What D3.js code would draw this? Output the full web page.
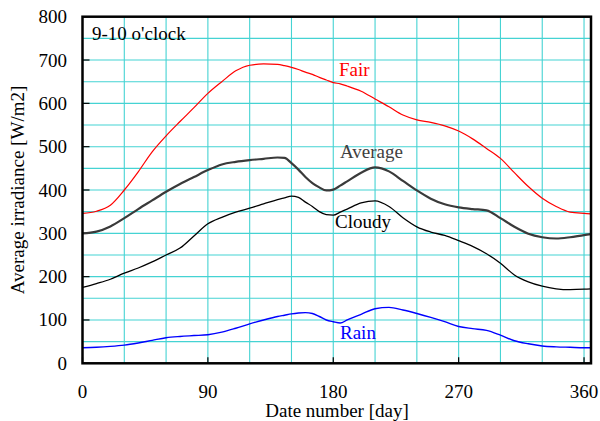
<!DOCTYPE html>
<html><head><meta charset="utf-8">
<script src="https://cdn.jsdelivr.net/npm/d3@7"></script>
<style>body{margin:0;background:#fff}svg{display:block}</style>
</head><body><svg id="c" width="600" height="421" font-family="'Liberation Serif', 'DejaVu Serif', serif"></svg>
<script>
const days   = [0,10,20,30,40,50,60,70,80,90,100,110,120,130,140,145,150,155,160,165,170,175,180,185,190,200,210,220,230,240,250,260,270,280,290,300,310,320,330,340,350,360,365];
const fair   = [346,351,365,400,442,488,525,558,590,623,650,675,688,691,690,687,683,678,672,667,660,654,648,645,640,628,610,592,573,562,556,548,536,518,496,473,440,408,381,362,349,346,345];
const average= [300,304,316,335,356,376,396,414,430,446,459,465,469,472,475,474,462,447,430,416,406,399,401,410,420,440,452,443,421,399,380,367,360,356,353,335,315,299,291,288,291,296,298];
const cloudy = [175,184,194,208,220,234,250,266,294,322,337,349,358,368,378,382,386,383,372,362,350,343,342,349,356,370,375,362,336,315,303,295,283,270,253,231,204,188,178,172,170,171,172];
const rain   = [36,37,39,42,47,53,59,62,64,66,72,81,91,100,108,111,114,116,117,115,108,100,96,93,100,113,126,129,123,115,106,96,85,80,76,65,52,45,40,38,37,36,36];
const xTicks = [0,90,180,270,360];
const yTicks = [0,100,200,300,400,500,600,700,800];
const seriesNames = ["Fair","Average","Cloudy","Rain"];
const seriesColors = ["#ff0000","#3a3a3a","#000000","#0000ff"];
const seriesWidths = [1.2,2.2,1.3,1.4];
const labelPos = [[339,76],[340,158],[335,228],[340,339]];

const L=82.5,R=591,T=16.7,B=363.3;
const x=d3.scaleLinear().domain([0,365]).range([L,R]);
const y=d3.scaleLinear().domain([0,800]).range([B,T]);
const svg=d3.select("#c");

const g=svg.append("g");
g.selectAll(".vg").data(d3.range(30,365,30)).enter().append("line")
 .attr("x1",d=>x(d)).attr("x2",d=>x(d)).attr("y1",T).attr("y2",B)
 .attr("stroke","#45d3d3").attr("stroke-width",1.1);
g.selectAll(".hg").data(d3.range(50,800,50)).enter().append("line")
 .attr("y1",d=>y(d)).attr("y2",d=>y(d)).attr("x1",L).attr("x2",R)
 .attr("stroke","#45d3d3").attr("stroke-width",1.1);

g.selectAll(".yt").data(yTicks).enter().append("line")
 .attr("x1",L).attr("x2",L+7).attr("y1",d=>y(d)).attr("y2",d=>y(d)).attr("stroke","#000").attr("stroke-width",1.2);
g.selectAll(".xt").data(xTicks).enter().append("line")
 .attr("x1",d=>x(d)).attr("x2",d=>x(d)).attr("y1",B).attr("y2",B-6).attr("stroke","#000").attr("stroke-width",1.2);

const data=[fair,average,cloudy,rain];
const line=d3.line().x((d,i)=>x(days[i])).y(d=>y(d)).curve(d3.curveMonotoneX);
data.forEach((s,k)=>{
  g.append("path").attr("d",line(s)).attr("fill","none")
   .attr("stroke",seriesColors[k]).attr("stroke-width",seriesWidths[k]).attr("stroke-linejoin","round");
  svg.append("text").attr("x",labelPos[k][0]).attr("y",labelPos[k][1]).text(seriesNames[k])
   .attr("fill",k===1?"#404040":seriesColors[k]).attr("font-size",19);
});

svg.append("rect").attr("x",L).attr("y",T).attr("width",R-L).attr("height",B-T)
 .attr("fill","none").attr("stroke","#000").attr("stroke-width",2.5);

svg.selectAll(".yl").data(yTicks).enter().append("text")
 .attr("x",67).attr("y",d=>y(d)+6.5).attr("text-anchor","end").attr("font-size",19).text(d=>d);
svg.selectAll(".xl").data(xTicks).enter().append("text")
 .attr("x",d=>x(d)).attr("y",398).attr("text-anchor","middle").attr("font-size",19).text(d=>d);

svg.append("text").attr("x",337).attr("y",417).attr("text-anchor","middle").attr("font-size",19).text("Date number [day]");
svg.append("text").attr("transform","translate(24,190) rotate(-90)").attr("text-anchor","middle").attr("font-size",19).text("Average irradiance [W/m2]");
svg.append("text").attr("x",92).attr("y",40).attr("font-size",19).text("9-10 o'clock");
</script></body></html>
